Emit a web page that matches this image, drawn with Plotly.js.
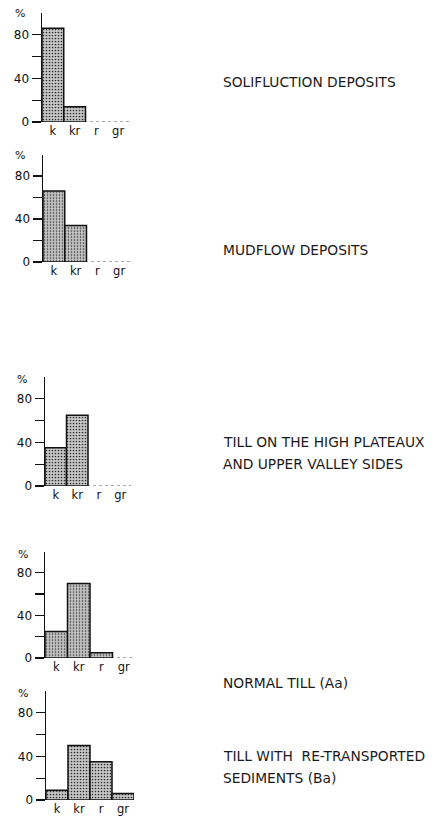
<!DOCTYPE html>
<html>
<head>
<meta charset="utf-8">
<script src="https://cdn.plot.ly/plotly-3.0.1.min.js"></script>
<style>
html,body{margin:0;padding:0;background:#fff;}
#chart{width:436px;height:817px;}
</style>
</head>
<body>
<div id="chart"></div>
<script>
// ---- data ----
const categories = ['k', 'kr', 'r', 'gr'];
const solifluction = [86, 14, 0, 0];
const mudflow = [66, 34, 0, 0];
const tillPlateaux = [35, 65, 0, 0];
const normalTill = [25, 70, 5, 0];
const tillRetransported = [9, 50, 35, 6];
const yTickVals = [0, 20, 40, 60, 80];
const yTickText = ['0', '', '40', '', '80'];
const panelLabels = [
  ['SOLIFLUCTION DEPOSITS'],
  ['MUDFLOW DEPOSITS'],
  ['TILL ON THE HIGH PLATEAUX', 'AND UPPER VALLEY SIDES'],
  ['NORMAL TILL (Aa)'],
  ['TILL WITH  RE-TRANSPORTED', 'SEDIMENTS (Ba)']
];
const series = [solifluction, mudflow, tillPlateaux, normalTill, tillRetransported];

// ---- layout geometry (pixels) ----
const W = 436, H = 817;
const boxes = [
  {x0: 42, x1: 129, top: 13,    bottom: 122, pctX: 20, pctY: 13,  labelY: [82]},
  {x0: 43, x1: 130, top: 154.5, bottom: 262, pctX: 20, pctY: 155, labelY: [250]},
  {x0: 45, x1: 131, top: 377,   bottom: 486, pctX: 22, pctY: 380, labelY: [442, 464]},
  {x0: 45, x1: 135, top: 551.5, bottom: 658, pctX: 23, pctY: 554, labelY: [683]},
  {x0: 46, x1: 134, top: 691,   bottom: 800, pctX: 23, pctY: 693, labelY: [756, 778]}
];
const labelX = 221;

const traces = [];
const layout = {
  width: W, height: H,
  margin: {l: 0, r: 0, t: 0, b: 0},
  paper_bgcolor: '#fff', plot_bgcolor: 'rgba(0,0,0,0)',
  showlegend: false,
  bargap: 0,
  font: {family: 'DejaVu Sans', color: '#111'},
  shapes: [],
  annotations: []
};

series.forEach((vals, i) => {
  const n = i + 1;
  const xa = 'x' + (n === 1 ? '' : n);
  const ya = 'y' + (n === 1 ? '' : n);
  const b = boxes[i];
  traces.push({
    type: 'bar',
    x: categories,
    y: vals,
    xaxis: xa, yaxis: ya,
    width: 1,
    marker: {
      color: '#c6c6c6',
      pattern: {shape: '.', fgcolor: '#333', bgcolor: '#c8c8c8', size: 3, solidity: 0.25},
      line: {color: '#111', width: vals.map(v => v > 0 ? 1.5 : 0)}
    },
    hoverinfo: 'none'
  });
  layout['xaxis' + (n === 1 ? '' : n)] = {
    domain: [b.x0 / W, b.x1 / W],
    anchor: ya,
    type: 'category',
    range: [-0.5, 3.5],
    showline: false, showgrid: false, zeroline: false,
    ticks: '',
    tickfont: {size: 11.5, family: 'DejaVu Sans', color: '#111'},
    fixedrange: true
  };
  layout['yaxis' + (n === 1 ? '' : n)] = {
    domain: [1 - b.bottom / H, 1 - b.top / H],
    anchor: xa,
    range: [0, 100],
    showline: true, linecolor: '#111', linewidth: 1.5,
    showgrid: false, zeroline: false,
    ticks: 'outside', ticklen: 9, tickwidth: 1.2, tickcolor: '#111',
    tickvals: yTickVals, ticktext: yTickText,
    tickfont: {size: 12, family: 'DejaVu Sans', color: '#111'},
    fixedrange: true
  };
  layout.shapes.push({
    type: 'line', xref: xa, yref: ya,
    x0: -0.5, x1: 3.5, y0: 0, y1: 0,
    line: {color: '#555', width: 1, dash: 'dot'},
    layer: 'below'
  });
  layout.annotations.push({
    xref: 'paper', yref: 'paper',
    x: b.pctX / W, y: 1 - b.pctY / H,
    text: '%', showarrow: false,
    xanchor: 'center', yanchor: 'middle',
    font: {size: 11, family: 'DejaVu Sans', color: '#111'}
  });
  panelLabels[i].forEach((t, j) => {
    layout.annotations.push({
      xref: 'paper', yref: 'paper',
      x: labelX / W, y: 1 - b.labelY[j] / H,
      text: t, showarrow: false,
      xanchor: 'left', yanchor: 'middle',
      font: {size: 13.8, family: 'DejaVu Sans', color: '#1a1a1a'}
    });
  });
});

Plotly.newPlot('chart', traces, layout, {staticPlot: true, displayModeBar: false});
</script>
</body>
</html>
